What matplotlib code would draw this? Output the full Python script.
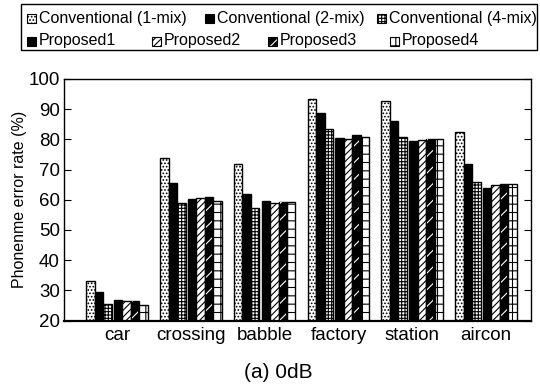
import numpy as np
import matplotlib.pyplot as plt
from matplotlib.patches import Rectangle

plt.rcParams['font.family'] = ['Liberation Sans', 'DejaVu Sans']
plt.rcParams['hatch.linewidth'] = 0.8

# data
noise = ['car', 'crossing', 'babble', 'factory', 'station', 'aircon']
conv1 = [33.2, 73.8, 71.8, 93.3, 92.6, 82.3]
conv2 = [29.3, 65.5, 62.0, 88.7, 86.2, 71.7]
conv4 = [25.4, 58.9, 57.4, 83.6, 80.8, 65.9]
prop1 = [26.9, 60.2, 59.6, 80.6, 79.4, 64.0]
prop2 = [26.3, 60.5, 58.9, 80.0, 79.8, 64.8]
prop3 = [26.6, 61.0, 59.2, 81.3, 80.0, 65.3]
prop4 = [25.0, 59.7, 59.1, 80.8, 80.1, 65.3]

series = [conv1, conv2, conv4, prop1, prop2, prop3, prop4]
names = ['Conventional (1-mix)', 'Conventional (2-mix)', 'Conventional (4-mix)',
         'Proposed1', 'Proposed2', 'Proposed3', 'Proposed4']
# (facecolor, hatch, hatch colour)
styles = [('white', '.....', 'black'),
          ('black', '', 'black'),
          ('white', '+++++', 'black'),
          ('black', '', 'black'),
          ('white', '/////', 'black'),
          ('black', '//', 'white'),
          ('white', '++', 'black')]

W, H = 540, 391
fig = plt.figure(figsize=(W / 100, H / 100), dpi=100)
ax = fig.add_axes([64 / W, 1 - 320.5 / H, 467 / W, 241.5 / H])

x = np.arange(len(noise))
w = 0.115
offs = np.array([-3, -2, -1, 0, 1, 2, 3]) * w + np.array([-1, -1, -1, 1, 1, 1, 1]) * 0.015

for vals, off, (fc, h, hc) in zip(series, offs, styles):
    v = np.array(vals) - 20
    if hc == 'white':
        ax.bar(x + off, v, w, bottom=20, color='black', edgecolor='black', lw=1.0)
        ax.bar(x + off, v, w * 0.7, bottom=20, facecolor='none',
               edgecolor='white', hatch=h, lw=0)
    else:
        ax.bar(x + off, v, w, bottom=20, facecolor=fc, edgecolor=hc, hatch=h, lw=1.0)

ax.set_xlim(-0.72, 5.61)
ax.set_ylim(20, 100)
ax.set_yticks(range(20, 101, 10))
ax.set_xticks(x)
ax.set_xticklabels(noise, fontsize=13.5)
ax.tick_params(axis='y', direction='in', right=True, labelsize=13.5, length=5, pad=3)
ax.tick_params(axis='x', length=0, pad=5)
ax.set_ylabel('Phonenme error rate (%)', fontsize=11.5, labelpad=1)
for s in ax.spines.values():
    s.set_linewidth(1.0)
ax.spines['bottom'].set_linewidth(1.6)

fig.text(278 / W, 1 - 373 / H, '(a) 0dB', ha='center', va='center', fontsize=15)

# legend box drawn by hand: row 1 has three entries, row 2 four
leg_x = [27, 205, 377, 27, 152, 268, 390]
leg_y = [18, 18, 18, 41, 41, 41, 41]
sz = 9
for i, (lx, ly) in enumerate(zip(leg_x, leg_y)):
    fc, h, hc = styles[i]
    r = Rectangle((lx / W, 1 - (ly + sz / 2) / H), sz / W, sz / H, transform=fig.transFigure,
                  facecolor='black' if hc == 'white' else fc,
                  edgecolor='white' if hc == 'white' else 'black', hatch=h, lw=0.8)
    fig.patches.append(r)
    if hc == 'white':
        fig.patches.append(Rectangle((lx / W, 1 - (ly + sz / 2) / H), sz / W, sz / H,
                                     transform=fig.transFigure, fill=False,
                                     edgecolor='black', lw=0.8))
    fig.text((lx + sz + 3) / W, 1 - ly / H, names[i], ha='left', va='center', fontsize=11.5)
fig.patches.append(Rectangle((21 / W, 1 - 50 / H), 516 / W, 46 / H, transform=fig.transFigure,
                             fill=False, edgecolor='black', lw=1.0))

fig.savefig('out.png', dpi=100)
